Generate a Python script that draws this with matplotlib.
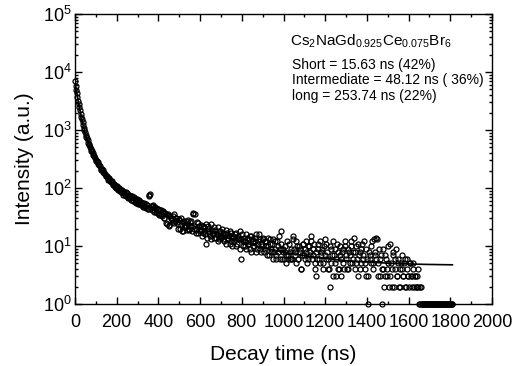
import numpy as np
import matplotlib.pyplot as plt
from matplotlib.ticker import MultipleLocator, LogLocator, NullFormatter

plt.rcParams['font.family'] = ['Liberation Sans', 'DejaVu Sans']
plt.rcParams['mathtext.fontset'] = 'custom'
plt.rcParams['mathtext.rm'] = 'Liberation Sans'
plt.rcParams['mathtext.it'] = 'Liberation Sans:italic'

# measured counts at 0, 6, 12, ... ns
sayim = [
    6950, 4900, 3720, 2760, 2180, 1660, 1370, 1090, 930, 760,
    670, 570, 515, 440, 405, 355, 330, 290, 278, 245,
    236, 208, 202, 180, 176, 158, 149, 146, 131, 134,
    118, 119, 106, 110, 97, 100, 88, 93, 81, 86,
    75, 84, 70, 76, 66, 72, 61, 68, 57, 64,
    55,
    60, 52, 58, 49, 55, 47, 53, 44, 76, 80,
    45, 50, 41, 47, 38, 44, 36, 42, 34, 40,
    31, 37, 25, 36, 22, 33, 30, 26, 35, 27,
    31, 24, 29, 20, 30, 18, 27, 23, 21, 28,
    19, 26, 22, 35, 20, 36, 17, 25, 21, 18,
    23, 17, 21, 16, 11, 22, 18, 15, 24, 17,
    14, 19, 16, 21, 13, 18, 15, 17, 12, 16,
    19, 13, 15, 11, 17, 14, 12, 16, 10, 15,
    13, 18, 6, 12, 14, 10, 16, 11, 13, 9,
    15, 12, 10, 14, 8, 12, 16, 9, 11, 13,
    8, 12, 10, 14, 7, 11, 9, 13, 8, 12,
    7, 10, 15, 9, 18, 8,
    6, 10, 7, 6, 11, 8, 6, 15, 9, 7,
    12, 6, 10, 8, 4, 11, 7, 9, 12, 6,
    10, 8, 15, 7, 11, 5, 3, 9, 6, 12,
    8, 5, 10, 7, 11, 6, 4, 2, 9, 12,
    7, 5, 3, 8, 4, 10, 6, 9, 4, 12,
    7, 4, 8, 5, 10, 6, 14, 8, 5, 11,
    7, 4, 9, 6, 12, 5, 3, 1, 8, 6,
    10, 5, 13, 7, 14, 3, 9, 6, 1, 4,
    2, 7, 3, 5, 2, 11, 4, 8, 2, 6,
    3, 5, 2, 4, 7, 3, 5, 2, 6, 3,
    2, 5, 3, 4, 2, 3, 2, 4, 1, 2,
    1, 1, 1, 1, 1, 1, 1, 1, 1, 1,
    1, 1, 1, 1, 1, 1, 1, 1, 1, 1,
    1, 1, 1, 1, 1,
]
# measured counts at 3, 9, 15, ... ns
sayim_ara = [
    5650, 4350, 3150, 2500, 1880, 1540, 1200, 1020, 830, 730,
    600, 550, 465, 432, 372, 350, 305, 292, 255, 246,
    215, 210, 186, 183, 160, 162, 140, 144, 125, 130,
    112, 117, 100, 108, 92, 99, 84, 92, 77, 86,
    72, 82, 66, 77, 63, 72, 59, 69, 55, 64,
    54, 61, 50, 56, 47, 54, 45, 51, 43, 72,
    48, 42, 49, 39, 45, 37, 43, 34, 41, 33,
    38, 30, 36, 24, 34, 23, 31, 28, 33, 25,
    30, 26, 20, 28, 23, 18, 26, 21, 27, 19,
    24, 20, 27, 18, 37, 22, 19, 26, 17, 22,
    19, 15, 22, 18, 24, 14, 20, 17, 13, 19,
    16, 21, 14, 17, 12, 18, 14, 20, 13, 15,
    11, 17, 14, 18, 12, 10, 15, 13, 17, 11,
    14, 9, 13, 16, 10, 12, 9, 14, 11, 15,
    8, 13, 10, 12, 16, 9, 11, 13, 8, 10,
    14, 9, 12, 7, 10, 13, 8, 11, 6, 9,
    6, 12, 8, 6, 11, 6, 9,
    8, 5, 12, 7, 6, 9, 6, 13, 8, 5,
    10, 6, 9, 4, 7, 11, 6, 8, 5, 10,
    7, 12, 6, 9, 4, 8, 6, 11, 5, 7,
    9, 4, 13, 6, 8, 4, 10, 5, 7, 3,
    9, 6, 11, 4, 7, 3, 8, 5, 10, 6,
    4, 9, 7, 12, 5, 8, 4, 10, 6, 3,
    8, 5, 11, 7, 4, 9, 6, 3, 7, 5,
    12, 4, 8, 6, 13, 5, 3, 7, 4, 9,
    3, 6, 4, 10, 3, 5, 2, 7, 4, 9,
    3, 6, 2, 5, 4, 3, 6, 2, 4, 3,
    5, 3, 2, 5, 3, 2, 3, 2, 1, 2,
    1, 1, 1, 1, 1, 1, 1, 1, 1, 1,
    1, 1, 1, 1, 1, 1, 1, 1, 1, 1,
    1, 1, 1, 1, 1,
]
zaman = np.arange(len(sayim)) * 6
zaman_ara = np.arange(len(sayim_ara)) * 6 + 3

# fit curve
fit_zaman = [0, 6, 12, 18, 24, 30, 36, 42, 48, 54, 60, 72, 84, 96, 108, 120,
             132, 144, 156, 168, 180, 192, 204, 216, 228, 240, 252, 264, 276,
             288, 300, 330, 360, 390, 420, 450, 480, 510, 540, 570, 600, 630,
             660, 690, 720, 750, 780, 810, 840, 870, 900, 960, 1020, 1080,
             1140, 1200, 1260, 1320, 1380, 1440, 1500, 1560, 1620, 1680,
             1740, 1810]
fit_deger = [6802, 4979, 3698, 2794, 2152, 1689, 1352, 1103, 916, 774, 663,
             506, 401, 327, 272, 230, 198, 172, 151, 135, 121, 110, 100, 92,
             85, 79, 74, 70, 65.6, 61.9, 58.6, 51.6, 45.8, 40.9, 36.7, 33,
             29.8, 27, 24.5, 22.3, 20.3, 18.5, 17, 15.6, 14.4, 13.3, 12.3,
             11.5, 10.7, 10.0, 9.4, 8.4, 7.6, 7.0, 6.5, 6.1, 5.8, 5.5, 5.33,
             5.2, 5.06, 4.96, 4.88, 4.82, 4.78, 4.74]

fig = plt.figure(figsize=(5.19, 3.66), dpi=100)
ax = fig.add_axes([0.1445, 0.1694, 0.8035, 0.7923])

for x, y in [(zaman, sayim), (zaman_ara, sayim_ara)]:
    ax.plot(x, y, 'o', mfc='none', mec='black', ms=3.6, mew=0.9,
            clip_on=False, zorder=3)
ax.plot(fit_zaman, fit_deger, '-', color='black', lw=1.2, zorder=2)

ax.set_yscale('log')
ax.set_xlim(0, 2000)
ax.set_ylim(1, 1e5)
ax.xaxis.set_major_locator(MultipleLocator(200))
ax.xaxis.set_minor_locator(MultipleLocator(100))
ax.yaxis.set_major_locator(LogLocator(base=10, numticks=10))
ax.yaxis.set_minor_locator(LogLocator(base=10, subs=np.arange(2, 10), numticks=10))
ax.yaxis.set_minor_formatter(NullFormatter())
ax.tick_params(which='both', direction='in', top=True, right=True,
               labelsize=13, width=1)
ax.tick_params(which='major', length=5)
ax.tick_params(which='minor', length=2.5)
ax.tick_params(axis='x', which='major', pad=7)
ax.tick_params(axis='y', which='major', pad=2.5)
for s in ax.spines.values():
    s.set_linewidth(1)

ax.set_xlabel("Decay time (ns)", fontsize=15, labelpad=10)
ax.set_ylabel("Intensity (a.u.)", fontsize=15, labelpad=6)

ax.text(0.515, 0.935, r"Cs$_2$NaGd$_{0.925}$Ce$_{0.075}$Br$_6$",
        transform=ax.transAxes, fontsize=11, va='top')
ax.text(0.52, 0.85, "Short = 15.63 ns (42%)\nIntermediate = 48.12 ns ( 36%)\nlong = 253.74 ns (22%)",
        transform=ax.transAxes, fontsize=10, va='top', linespacing=1.15)

plt.savefig("out.png", dpi=100)
